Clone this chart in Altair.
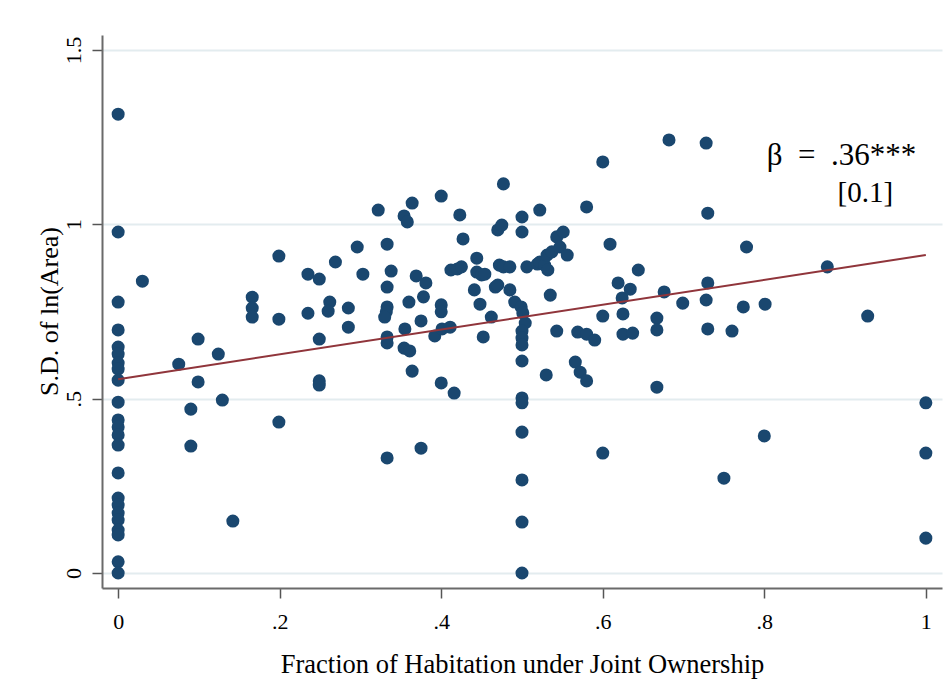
import altair as alt
import pandas as pd

# Scatter points: fraction of habitation under joint ownership (x) vs S.D. of ln(Area) (y)
x_zero_y = [1.316, 0.978, 0.777, 0.697, 0.648, 0.628, 0.602, 0.585, 0.553, 0.490,
            0.439, 0.419, 0.396, 0.367, 0.287, 0.215, 0.195, 0.172, 0.152, 0.123,
            0.109, 0.032, 0.000]

other_x = [0.030, 0.075, 0.099, 0.099, 0.090, 0.090, 0.129, 0.124, 0.142, 0.166,
           0.166, 0.166, 0.199, 0.199, 0.199, 0.235, 0.235, 0.249, 0.249, 0.249,
           0.249, 0.262, 0.260, 0.269, 0.285, 0.285, 0.296, 0.303, 0.322, 0.333,
           0.338, 0.333, 0.333, 0.332, 0.330, 0.333, 0.333, 0.333, 0.354, 0.358,
           0.364, 0.369, 0.381, 0.378, 0.360, 0.375, 0.355, 0.354, 0.361, 0.364,
           0.375, 0.400, 0.400, 0.400, 0.392, 0.401, 0.411, 0.400, 0.416, 0.423,
           0.427, 0.412, 0.420, 0.425, 0.444, 0.444, 0.450, 0.454, 0.441, 0.448,
           0.462, 0.452, 0.467, 0.470, 0.472, 0.477, 0.485, 0.470, 0.475, 0.477,
           0.485, 0.491, 0.499, 0.501, 0.504, 0.500, 0.500, 0.500, 0.500, 0.500,
           0.500, 0.500, 0.500, 0.500, 0.500, 0.500, 0.500, 0.506, 0.522, 0.519,
           0.522, 0.528, 0.532, 0.531, 0.537, 0.543, 0.551, 0.547, 0.556, 0.535,
           0.530, 0.543, 0.580, 0.600, 0.609, 0.569, 0.580, 0.590, 0.566, 0.572,
           0.580, 0.600, 0.600, 0.619, 0.624, 0.634, 0.625, 0.625, 0.637, 0.644,
           0.667, 0.667, 0.667, 0.676, 0.682, 0.699, 0.728, 0.730, 0.730, 0.728,
           0.730, 0.750, 0.760, 0.774, 0.778, 0.800, 0.801, 0.878, 0.928, 1.000,
           1.000, 1.000]

other_y = [0.837, 0.599, 0.671, 0.548, 0.470, 0.364, 0.496, 0.628, 0.149, 0.791,
           0.760, 0.734, 0.909, 0.728, 0.433, 0.857, 0.745, 0.843, 0.671, 0.551,
           0.539, 0.777, 0.751, 0.892, 0.760, 0.705, 0.935, 0.857, 1.041, 0.943,
           0.866, 0.820, 0.763, 0.749, 0.734, 0.677, 0.660, 0.330, 1.024, 1.007,
           1.061, 0.852, 0.832, 0.792, 0.777, 0.723, 0.700, 0.645, 0.637, 0.579,
           0.358, 1.081, 0.769, 0.749, 0.680, 0.700, 0.705, 0.545, 0.516, 1.027,
           0.958, 0.869, 0.872, 0.878, 0.903, 0.863, 0.855, 0.857, 0.812, 0.771,
           0.734, 0.677, 0.820, 0.826, 0.883, 0.878, 0.878, 0.984, 0.998, 1.116,
           0.812, 0.777, 0.763, 0.746, 0.717, 0.694, 0.674, 0.654, 0.608, 1.021,
           0.978, 0.502, 0.488, 0.404, 0.267, 0.146, 0.000, 0.878, 1.041, 0.886,
           0.892, 0.883, 0.869, 0.912, 0.921, 0.964, 0.978, 0.935, 0.912, 0.797,
           0.568, 0.694, 1.050, 1.179, 0.943, 0.691, 0.685, 0.668, 0.605, 0.576,
           0.551, 0.737, 0.344, 0.832, 0.789, 0.814, 0.743, 0.685, 0.688, 0.869,
           0.731, 0.697, 0.533, 0.806, 1.242, 0.774, 1.233, 1.032, 0.832, 0.783,
           0.700, 0.272, 0.694, 0.763, 0.935, 0.393, 0.771, 0.878, 0.737, 0.488,
           0.344, 0.100]

# Fitted line endpoints
fit_x = [0.0, 1.0]
fit_y = [0.556, 0.912]

# Annotation (coefficient and standard error)
annot_text = ["β\u2002=\u2002.36***", "[0.1]"]
annot_x = [0.803, 0.925]
annot_y = [1.170, 1.064]

x_ticks = [0, 0.2, 0.4, 0.6, 0.8, 1.0]
y_ticks = [0, 0.5, 1.0, 1.5]

pts = pd.DataFrame({
    "x": [0.0] * len(x_zero_y) + other_x,
    "y": x_zero_y + other_y,
})
fit = pd.DataFrame({"x": fit_x, "y": fit_y})
ann = pd.DataFrame({"x": annot_x, "y": annot_y, "t": annot_text})

FONT = "Liberation Serif"
label_expr = "datum.value > 0 && datum.value < 1 ? slice(format(datum.value, '.1f'), 1) : format(datum.value, '~g')"

xscale = alt.Scale(domain=[-0.02, 1.02], nice=False, zero=False)
yscale = alt.Scale(domain=[-0.043, 1.543], nice=False, zero=False)

xaxis = alt.Axis(
    values=x_ticks, labelExpr=label_expr, title="Fraction of Habitation under Joint Ownership",
    grid=False, tickSize=10, tickWidth=1.5, tickColor="#555555",
    domainColor="#6a6a6a", domainWidth=2,
    labelFont=FONT, labelFontSize=22, labelColor="#000000", labelPadding=13,
    labelBaseline="top", labelFlush=False,
    titleFont=FONT, titleFontSize=26.5, titleFontWeight="normal", titleColor="#000000",
    titleBaseline="alphabetic", titleY=84,
)
yaxis = alt.Axis(
    values=y_ticks, labelExpr=label_expr, title="S.D. of ln(Area)",
    grid=True, gridColor="#e3ecef", gridWidth=1.8,
    tickSize=10, tickWidth=1.5, tickColor="#555555",
    domainColor="#6a6a6a", domainWidth=2,
    labelFont=FONT, labelFontSize=22, labelColor="#000000", labelPadding=7,
    labelAngle=270, labelAlign="center", labelBaseline="bottom", labelFlush=False,
    titleFont=FONT, titleFontSize=26, titleFontWeight="normal", titleColor="#000000",
    titleAngle=270, titleAlign="center", titleBaseline="alphabetic",
    titleX=-45, titleY=276,
)

points = alt.Chart(pts).mark_circle(size=170, color="#1a476f", opacity=1).encode(
    x=alt.X("x:Q", scale=xscale, axis=xaxis),
    y=alt.Y("y:Q", scale=yscale, axis=yaxis),
)

line = alt.Chart(fit).mark_line(color="#90353b", strokeWidth=2).encode(
    x=alt.X("x:Q", scale=xscale),
    y=alt.Y("y:Q", scale=yscale),
)

text1 = alt.Chart(ann.iloc[[0]]).mark_text(
    font=FONT, fontSize=31, align="left", baseline="alphabetic", color="#000000"
).encode(x=alt.X("x:Q", scale=xscale), y=alt.Y("y:Q", scale=yscale), text="t:N")

text2 = alt.Chart(ann.iloc[[1]]).mark_text(
    font=FONT, fontSize=29, align="center", baseline="alphabetic", color="#000000"
).encode(x=alt.X("x:Q", scale=xscale), y=alt.Y("y:Q", scale=yscale), text="t:N")

chart = alt.layer(points, line, text1, text2).properties(
    width=840, height=553,
    autosize=alt.AutoSizeParams(type="none"),
    padding={"left": 94, "top": 27, "right": 2, "bottom": 100},
    background="white",
).configure_view(stroke=None)

chart.save("out.html", embed_options={"renderer": "svg", "actions": False})
